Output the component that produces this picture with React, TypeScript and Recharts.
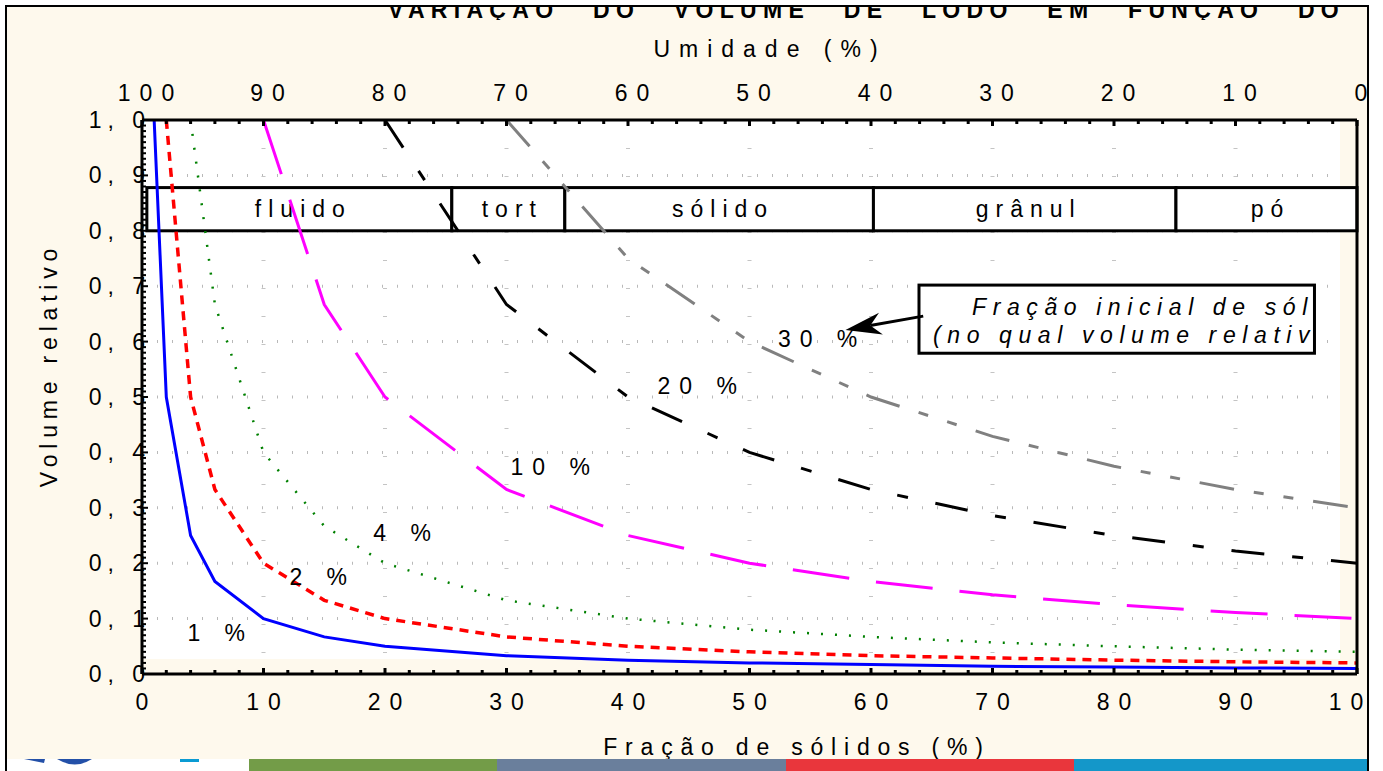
import React from 'react';
import {
  ComposedChart,
  Line,
  XAxis,
  YAxis,
  CartesianGrid,
  ReferenceArea,
  ReferenceDot,
  ReferenceLine,
} from 'recharts';

const FONT = '"Liberation Sans", Arial, sans-serif';
const CREAM = '#fef9ed';

// fração de sólidos (%) dos pontos calculados
const solidsPct = [1, 2, 4, 6, 10, 15, 20, 30, 40, 50, 60, 70, 80, 90, 100];
// volume relativo para cada fração inicial de sólidos
const vol1 = [1.0, 0.5, 0.25, 0.167, 0.1, 0.067, 0.05, 0.033, 0.025, 0.02, 0.017, 0.014, 0.0125, 0.011, 0.01];
const vol2 = [null, 1.0, 0.5, 0.333, 0.2, 0.133, 0.1, 0.067, 0.05, 0.04, 0.033, 0.029, 0.025, 0.022, 0.02];
const vol4 = [null, null, 1.0, 0.667, 0.4, 0.267, 0.2, 0.133, 0.1, 0.08, 0.067, 0.057, 0.05, 0.044, 0.04];
const vol10 = [null, null, null, null, 1.0, 0.667, 0.5, 0.333, 0.25, 0.2, 0.167, 0.143, 0.125, 0.111, 0.1];
const vol20 = [null, null, null, null, null, null, 1.0, 0.667, 0.5, 0.4, 0.333, 0.286, 0.25, 0.222, 0.2];
const vol30 = [null, null, null, null, null, null, null, 1.0, 0.75, 0.6, 0.5, 0.429, 0.375, 0.333, 0.3];

const yMajorTicks = [0, 0.1, 0.2, 0.3, 0.4, 0.5, 0.6, 0.7, 0.8, 0.9, 1.0];
const yTickLabels = ['0, 0', '0, 1', '0, 2', '0, 3', '0, 4', '0, 5', '0, 6', '0, 7', '0, 8', '0, 9', '1, 0'];
const xMajorTicks = [0, 10, 20, 30, 40, 50, 60, 70, 80, 90, 100];
const xTickLabels = ['0', '10', '20', '30', '40', '50', '60', '70', '80', '90', '100'];
const umidadeLabels = ['100', '90', '80', '70', '60', '50', '40', '30', '20', '10', '0'];
const gridY = [0.1, 0.2, 0.3, 0.4, 0.5, 0.6, 0.7, 0.8, 0.9];
const gridX = [10, 20, 30, 40, 50, 60, 70, 80, 90];
const rightTicks = [1, 2, 3, 4, 5, 6, 7, 8, 9, 10, 11, 12, 13];

const regionNames = ['fluido', 'tort', 'sólido', 'grânul', 'pó'];
const regionEdges = [0.4, 25.5, 34.8, 60.2, 85.1, 100];

const curveLabels = ['1 %', '2 %', '4 %', '10 %', '20 %', '30 %'];
const curveLabelX = [3.9, 12.3, 19.2, 30.5, 42.6, 52.5];
const curveLabelY = [0.06, 0.161, 0.24, 0.36, 0.505, 0.59];

// marcas secundárias dos eixos
const yMinorTicks = Array.from({ length: 101 }, (_, i) => i / 100);
const xMinorTicks = Array.from({ length: 51 }, (_, i) => i * 2);

const rows = solidsPct.map((x, i) => ({
  x,
  v1: vol1[i],
  v2: vol2[i],
  v4: vol4[i],
  v10: vol10[i],
  v20: vol20[i],
  v30: vol30[i],
}));

const txt = { fontFamily: FONT, fontSize: 23, fill: '#000' };
const LS = 9;

const LeftTick = ({ x, y, payload }: any) => {
  const idx = yMajorTicks.findIndex((t) => Math.abs(t - payload.value) < 1e-6);
  return (
    <g>
      <line x1={x} x2={x + (idx >= 0 ? 6 : 4)} y1={y} y2={y} stroke="#000" strokeWidth={2} />
      {idx >= 0 && (
        <text x={x + 3 + 6} y={y + 8} textAnchor="end" style={{ ...txt, letterSpacing: 6 }}>
          {yTickLabels[idx]}
        </text>
      )}
    </g>
  );
};

const BottomTick = ({ x, y, payload }: any) => {
  const idx = xMajorTicks.indexOf(payload.value);
  return (
    <g>
      <line x1={x} x2={x} y1={y} y2={y - (idx >= 0 ? 6 : 4)} stroke="#000" strokeWidth={3} />
      {idx >= 0 && (
        <text x={x + LS / 2} y={y + 36} textAnchor="middle" style={{ ...txt, letterSpacing: LS }}>
          {xTickLabels[idx]}
        </text>
      )}
    </g>
  );
};

const TopTick = ({ x, y, payload }: any) => {
  const idx = xMajorTicks.indexOf(payload.value);
  return (
    <g>
      <line x1={x} x2={x} y1={y} y2={y + (idx >= 0 ? 6 : 4)} stroke="#000" strokeWidth={3} />
      {idx >= 0 && (
        <text x={x + LS / 2 + 4} y={y - 19} textAnchor="middle" style={{ ...txt, letterSpacing: LS }}>
          {umidadeLabels[idx]}
        </text>
      )}
    </g>
  );
};

const RightTick = ({ x, y }: any) => (
  <line x1={x} x2={x - 5} y1={y} y2={y} stroke="#000" strokeWidth={3} />
);

const RegionShape = ({ x, y, width, height, name }: any) => (
  <g>
    <rect x={x} y={y} width={width} height={height} fill="#fff" stroke="#000" strokeWidth={3} />
    <text
      x={x + width / 2 + 4}
      y={y + height / 2 + 8}
      textAnchor="middle"
      style={{ ...txt, letterSpacing: 7 }}
    >
      {name}
    </text>
  </g>
);

const NoteShape = ({ x, y, width, height }: any) => (
  <g>
    <defs>
      <clipPath id="noteClip">
        <rect x={x} y={y} width={width - 2} height={height} />
      </clipPath>
    </defs>
    <rect x={x} y={y} width={width} height={height} fill="#fff" stroke="#000" strokeWidth={3} />
    <g clipPath="url(#noteClip)" style={{ ...txt, fontStyle: 'italic', letterSpacing: 6.6 }}>
      <text x={x + 53} y={y + 30}>Fração inicial de sólidos</text>
      <text x={x + 14} y={y + 58}>(no qual volume relativo = 1)</text>
    </g>
  </g>
);

const ArrowShape = ({ x1, y1, x2, y2 }: any) => {
  const a = Math.atan2(y2 - y1, x2 - x1);
  const len = 36;
  const half = 11;
  const bx = x2 - len * Math.cos(a);
  const by = y2 - len * Math.sin(a);
  const nx = -Math.sin(a);
  const ny = Math.cos(a);
  const mx = x2 - len * 0.7 * Math.cos(a);
  const my = y2 - len * 0.7 * Math.sin(a);
  return (
    <g>
      <line x1={x1} y1={y1} x2={mx} y2={my} stroke="#000" strokeWidth={3} />
      <polygon
        points={`${x2},${y2} ${bx + nx * half},${by + ny * half} ${mx},${my} ${bx - nx * half},${by - ny * half}`}
        fill="#000"
      />
    </g>
  );
};

export default function App() {
  return (
    <div style={{ position: 'absolute', left: 0, top: 0, width: 1383, height: 771, background: '#fff', overflow: 'hidden' }}>
      <div style={{ position: 'absolute', left: 7, top: 7, width: 1360, height: 752, background: CREAM }} />

      <div style={{ position: 'absolute', left: 0, top: 0 }}>
        <ComposedChart width={1383} height={771} data={rows} margin={{ top: 60, right: 16, bottom: 37, left: 82 }}>
          <CartesianGrid
            xAxisId="b"
            yAxisId="l"
            vertical={false}
            horizontalValues={gridY}
            stroke="#b9b9b9"
            strokeWidth={3}
            strokeDasharray="1 14"
            fill="#fff"
            fillOpacity={1}
          />
          <CartesianGrid
            xAxisId="b"
            yAxisId="l"
            horizontal={false}
            verticalValues={gridX}
            stroke="#c4c4c4"
            strokeWidth={4}
            strokeDasharray="1 27"
          />
          <ReferenceArea xAxisId="b" yAxisId="l" x1={98.6} x2={100} y1={0} y2={1} fill={CREAM} fillOpacity={1} stroke="none" />
          <ReferenceArea xAxisId="b" yAxisId="l" x1={0} x2={100} y1={0} y2={0.027} fill={CREAM} fillOpacity={1} stroke="none" />

          {regionNames.map((name, i) => (
            <ReferenceArea
              key={name}
              xAxisId="b"
              yAxisId="l"
              x1={regionEdges[i]}
              x2={regionEdges[i + 1]}
              y1={0.8}
              y2={0.878}
              shape={(p: any) => <RegionShape {...p} name={name} />}
            />
          ))}

          <XAxis
            xAxisId="b"
            dataKey="x"
            type="number"
            domain={[0, 100]}
            ticks={xMinorTicks}
            interval={0}
            tick={(p: any) => <BottomTick {...p} />}
            tickLine={false}
            tickSize={0}
            tickMargin={0}
            axisLine={{ stroke: '#000', strokeWidth: 3 }}
            height={60}
          />
          <XAxis
            xAxisId="t"
            dataKey="x"
            orientation="top"
            type="number"
            domain={[0, 100]}
            ticks={xMinorTicks}
            interval={0}
            tick={(p: any) => <TopTick {...p} />}
            tickLine={false}
            tickSize={0}
            tickMargin={0}
            axisLine={{ stroke: '#000', strokeWidth: 3 }}
            height={60}
          />
          <YAxis
            yAxisId="l"
            type="number"
            domain={[0, 1]}
            ticks={yMinorTicks}
            interval={0}
            tick={(p: any) => <LeftTick {...p} />}
            tickLine={false}
            tickSize={0}
            tickMargin={0}
            axisLine={{ stroke: '#000', strokeWidth: 3 }}
            width={60}
          />
          <YAxis
            yAxisId="r"
            orientation="right"
            type="number"
            domain={[0, 14]}
            ticks={rightTicks}
            interval={0}
            tick={(p: any) => <RightTick {...p} />}
            tickLine={false}
            tickSize={0}
            tickMargin={0}
            axisLine={{ stroke: '#000', strokeWidth: 3 }}
            width={10}
          />

          <Line xAxisId="b" yAxisId="l" dataKey="v30" stroke="#808080" strokeWidth={3} strokeDasharray="35 20 10 20 10 20" dot={false} isAnimationActive={false} />
          <Line xAxisId="b" yAxisId="l" dataKey="v20" stroke="#000000" strokeWidth={3} strokeDasharray="33 28 11 28" dot={false} isAnimationActive={false} />
          <Line xAxisId="b" yAxisId="l" dataKey="v10" stroke="#ff00ff" strokeWidth={3} strokeDasharray="57 27" dot={false} isAnimationActive={false} />
          <Line xAxisId="b" yAxisId="l" dataKey="v4" stroke="#008000" strokeWidth={2.5} strokeDasharray="2 12" dot={false} isAnimationActive={false} />
          <Line xAxisId="b" yAxisId="l" dataKey="v2" stroke="#ff0000" strokeWidth={3.5} strokeDasharray="9 7" dot={false} isAnimationActive={false} />
          <Line xAxisId="b" yAxisId="l" dataKey="v1" stroke="#0000ff" strokeWidth={3} dot={false} isAnimationActive={false} />

          <ReferenceArea
            xAxisId="b"
            yAxisId="l"
            x1={63.95}
            x2={96.5}
            y1={0.579}
            y2={0.702}
            shape={(p: any) => <NoteShape {...p} />}
          />
          <ReferenceLine
            xAxisId="b"
            yAxisId="l"
            segment={[{ x: 64.3, y: 0.646 }, { x: 57.9, y: 0.621 }]}
            shape={(p: any) => <ArrowShape {...p} />}
          />

          {curveLabels.map((t, i) => (
            <ReferenceDot
              key={t}
              xAxisId="b"
              yAxisId="l"
              x={curveLabelX[i]}
              y={curveLabelY[i]}
              r={0}
              shape={(p: any) => (
                <text x={p.cx - 2} y={p.cy} style={{ ...txt, letterSpacing: 9 }}>
                  {t}
                </text>
              )}
            />
          ))}
        </ComposedChart>
      </div>

      <svg width={1383} height={771} style={{ position: 'absolute', left: 0, top: 0, pointerEvents: 'none' }}>
        <svg x={0} y={7} width={1383} height={13} overflow="hidden">
          <text
            x={388}
            y={11}
            style={{ ...txt, fontWeight: 'bold', letterSpacing: 6.3, wordSpacing: 21 }}
          >
            VARIAÇÃO DO VOLUME DE LODO EM FUNÇÃO DO
          </text>
        </svg>
        <text x={770} y={57} textAnchor="middle" style={{ ...txt, letterSpacing: 9 }}>
          Umidade (%)
        </text>
        <text x={797} y={755} textAnchor="middle" style={{ ...txt, letterSpacing: 7.8 }}>
          Fração de sólidos (%)
        </text>
        <text x={57} y={365} textAnchor="middle" transform="rotate(-90 57 365)" style={{ ...txt, letterSpacing: 5.8 }}>
          Volume relativo
        </text>

        <rect x={1369} y={0} width={14} height={771} fill="#fff" />
        <rect x={0} y={759} width={249} height={12} fill="#fff" />
        <path d="M24 759 L45 759 L44 763 Z" fill="#2350a8" />
        <path d="M57 759 Q75 770 92 759 Z" fill="#2350a8" />
        <rect x={180} y={759} width={19} height={3} fill="#0a9bd3" />
        <rect x={249} y={759} width={248} height={12} fill="#739c48" />
        <rect x={497} y={759} width={289} height={12} fill="#6a7f9c" />
        <rect x={786} y={759} width={288} height={12} fill="#e9363c" />
        <rect x={1074} y={759} width={293} height={12} fill="#1497c9" />

        <rect x={5} y={5} width={1364} height={2} fill="#000" />
        <rect x={5} y={5} width={2} height={766} fill="#000" />
        <rect x={1367} y={5} width={2} height={766} fill="#000" />
      </svg>
    </div>
  );
}
